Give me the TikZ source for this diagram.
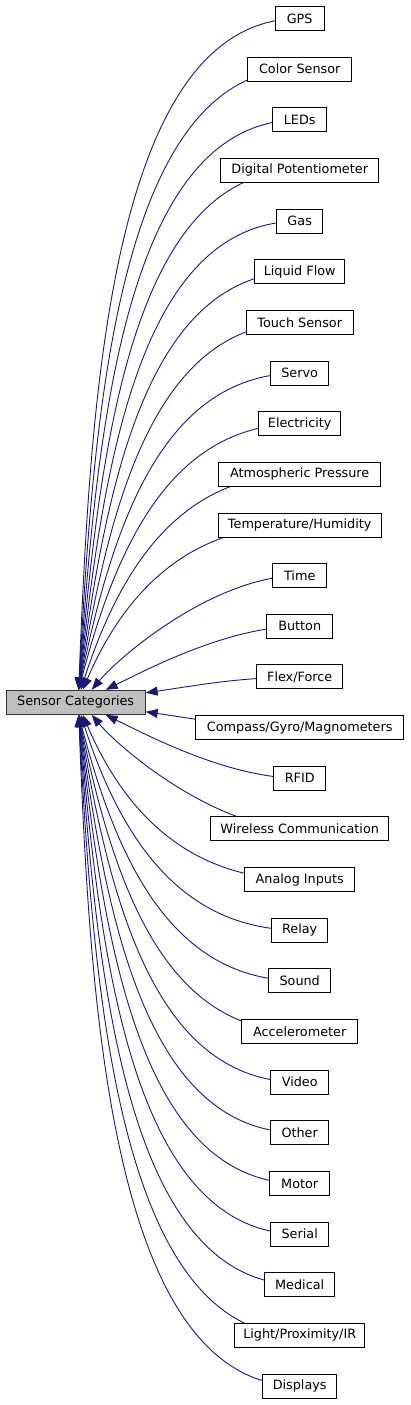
\documentclass[tikz,border=0pt]{standalone}
\usepackage{fontspec}
\setmainfont{DejaVu Sans}
\usetikzlibrary{arrows.meta,calc}
\pgfdeclarelayer{bg}
\pgfsetlayers{bg,main}
\definecolor{edgecol}{HTML}{191970}
\definecolor{mainfill}{HTML}{BFBFBF}
\begin{document}
\begin{tikzpicture}[x=1pt,y=-1pt,
  box/.style={draw=black, fill=white, line width=1pt, inner xsep=0pt, inner ysep=0pt,
    minimum height=24pt, font=\fontsize{12.8}{15}\selectfont, text=black},
  mainbox/.style={box, fill=mainfill, draw=black!80},
  arr/.style={draw=edgecol, line width=0.9pt, -{Triangle[length=12pt,width=9pt]}}]
\useasboundingbox (0,0) rectangle (411,1405);
\node[mainbox, minimum width=139pt] (main) at (75.7,702.3) {Sensor Categories};
\node[box, minimum width=49pt]  (gps)      at (299.7,18.5)    {GPS};
\node[box, minimum width=104pt] (color)    at (299.7,69.15)   {Color Sensor};
\node[box, minimum width=54pt]  (leds)     at (299.7,119.8)   {LEDs};
\node[box, minimum width=158pt] (digpot)   at (299.7,170.45)  {Digital Potentiometer};
\node[box, minimum width=46pt]  (gas)      at (299.7,221.1)   {Gas};
\node[box, minimum width=90pt]  (liquid)   at (299.7,271.75)  {Liquid Flow};
\node[box, minimum width=107pt] (touch)    at (299.7,322.4)   {Touch Sensor};
\node[box, minimum width=58pt]  (servo)    at (299.7,373.05)  {Servo};
\node[box, minimum width=82pt]  (elec)     at (299.7,423.7)   {Electricity};
\node[box, minimum width=162pt] (atmo)     at (299.7,474.35)  {Atmospheric Pressure};
\node[box, minimum width=163pt] (temp)     at (299.7,525.0)   {Temperature/Humidity};
\node[box, minimum width=54pt]  (time)     at (299.7,575.65)  {Time};
\node[box, minimum width=66pt]  (button)   at (299.7,626.3)   {Button};
\node[box, minimum width=86pt]  (flex)     at (299.7,676.95)  {Flex/Force};
\node[box, minimum width=208pt] (compass)  at (299.7,727.6)   {Compass/Gyro/Magnometers};
\node[box, minimum width=52pt]  (rfid)     at (299.7,778.25)  {RFID};
\node[box, minimum width=178pt] (wireless) at (299.7,828.9)   {Wireless Communication};
\node[box, minimum width=110pt] (analog)   at (299.7,879.55)  {Analog Inputs};
\node[box, minimum width=56pt]  (relay)    at (299.7,930.2)   {Relay};
\node[box, minimum width=62pt]  (sound)    at (299.7,980.85)  {Sound};
\node[box, minimum width=116pt] (accel)    at (299.7,1031.5)  {Accelerometer};
\node[box, minimum width=58pt]  (video)    at (299.7,1082.15) {Video};
\node[box, minimum width=58pt]  (other)    at (299.7,1132.8)  {Other};
\node[box, minimum width=60pt]  (motor)    at (299.7,1183.45) {Motor};
\node[box, minimum width=58pt]  (serial)   at (299.7,1234.1)  {Serial};
\node[box, minimum width=70pt]  (medical)  at (299.7,1284.75) {Medical};
\node[box, minimum width=130pt] (light)    at (299.7,1335.4)  {Light/Proximity/IR};
\node[box, minimum width=74pt]  (displays) at (299.7,1386.05) {Displays};
\foreach \nm [count=\j from 0] in {gps,color,leds,digpot,gas,liquid,touch,servo,elec,atmo,temp,time,button,flex,compass,rfid,wireless,analog,relay,sound,accel,video,other,motor,serial,medical,light,displays}{
  \pgfmathsetmacro\yc{18.5+50.65*\j}
  \pgfmathsetmacro\nn{abs(\j-13.5)}
  \pgfmathtruncatemacro\below{\j>13 ? 1 : 0}
  \pgfmathsetmacro\sg{\below==1 ? 1 : -1}
  \pgfmathtruncatemacro\near{\nn<1 ? 1 : 0}
  \pgfmathsetmacro\xa{\nn<1 ? 240 : (\nn<2 ? 230 : (\nn<3 ? 215 : 190-8*(\nn-3.5)))}
  \pgfmathsetmacro\xb{\nn<1 ? 190 : (\nn<2 ? 150 : (\nn<3 ? 120 : 125-3.5*(\nn-3.5)))}
  \pgfmathsetmacro\rr{\nn<1 ? 0.6 : (\nn<2 ? 0.65 : (\nn<3 ? 0.70 : 0.40+0.017*(\nn-3.5)))}
  \pgfmathsetmacro\hx{\nn<1 ? 0 : (\nn<2 ? 30 : (\nn<3 ? 16 : max(3, 7-2*(\nn-3.5))))}
  \pgfmathsetmacro\hy{702.3+\sg*(\near==1 ? 9.5 : 12)}
  \pgfmathsetmacro\yb{\yc+\rr*(\hy-\yc)}
  \ifnum\near=1
    \coordinate (h) at ($(main.east)+(0,\sg*9.5)$);
  \else\ifnum\below=1
    \coordinate (h) at ($(main.south)+(\hx,0)$);
  \else
    \coordinate (h) at ($(main.north)+(\hx,0)$);
  \fi\fi
  \begin{pgfonlayer}{bg}
    \draw[arr] (\nm.center) .. controls (\xa,\yc) and (\xb,\yb) .. (h);
  \end{pgfonlayer}
}
\end{tikzpicture}
\end{document}
